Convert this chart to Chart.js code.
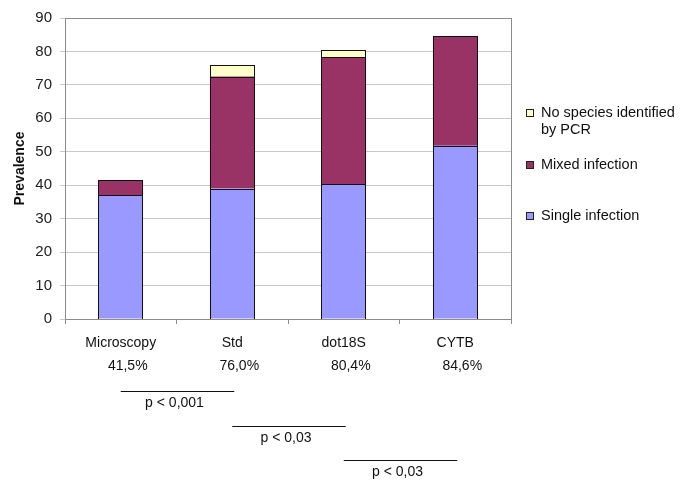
<!DOCTYPE html>
<html>
<head>
<meta charset="utf-8">
<script src="https://cdn.jsdelivr.net/npm/chart.js@4"></script>
<style>
html,body{margin:0;padding:0;background:#fff;}
#wrap{position:relative;width:685px;height:488px;}
</style>
</head>
<body>
<div id="wrap"><canvas id="c" width="685" height="488"></canvas></div>
<script>
// ---- data ----
const categories = ['Microscopy', 'Std', 'dot18S', 'CYTB'];
const singleInfection = [37.0, 39.0, 40.3, 51.8];
const mixedInfection = [4.5, 33.5, 37.9, 32.8];
const noSpecies = [null, 3.5, 2.2, null];
const percentLabels = ['41,5%', '76,0%', '80,4%', '84,6%'];
const pFrom = [0, 1, 2];
const pTo = [1, 2, 3];
const pTexts = ['p < 0,001', 'p < 0,03', 'p < 0,03'];
const yTicks = [0, 10, 20, 30, 40, 50, 60, 70, 80, 90];
const legendLabels = [['No species identified', 'by PCR'], ['Mixed infection'], ['Single infection']];

const FONT = '"Liberation Sans", Arial, sans-serif';

const frame = {
  id: 'frame',
  afterDatasetsDraw(chart) {
    const ctx = chart.ctx, a = chart.chartArea;
    ctx.save();
    // crisp outlines around the library's bar elements
    ctx.strokeStyle = '#111';
    ctx.lineWidth = 1;
    chart.data.datasets.forEach((d, di) => {
      chart.getDatasetMeta(di).data.forEach((el, i) => {
        if (d.data[i] == null) return;
        const p = el.getProps(['x', 'y', 'base', 'width'], true);
        const l = Math.round(p.x - p.width / 2), r = Math.round(p.x + p.width / 2);
        const t = Math.round(Math.min(p.y, p.base)), b = Math.round(Math.max(p.y, p.base));
        ctx.strokeRect(l + 0.5, t + 0.5, r - l - 1, b - t);
      });
    });
    ctx.strokeStyle = '#8c8c8c';
    ctx.strokeRect(Math.round(a.left) + 0.5, Math.round(a.top) + 0.5, Math.round(a.right - a.left), Math.round(a.bottom - a.top));
    ctx.restore();
  },
  afterDraw(chart) {
    const ctx = chart.ctx, x = chart.scales.x;
    ctx.save();
    ctx.fillStyle = '#111';
    ctx.font = '14px ' + FONT;
    ctx.textAlign = 'center';
    ctx.textBaseline = 'middle';
    percentLabels.forEach((t, i) => {
      ctx.fillText(t, x.getPixelForValue(i) + 7, 366);
    });
    const lineY = [391, 426, 460];
    ctx.strokeStyle = '#111';
    ctx.lineWidth = 1;
    pTexts.forEach((t, i) => {
      const x1 = x.getPixelForValue(pFrom[i]);
      const x2 = x.getPixelForValue(pTo[i]) + 2;
      const y = lineY[i] + 0.5;
      ctx.beginPath();
      ctx.moveTo(x1, y);
      ctx.lineTo(x2, y);
      ctx.stroke();
      ctx.fillText(t, (x1 + x2) / 2 - 3, lineY[i] + 12);
    });
    const ds = chart.data.datasets;
    const order = [2, 1, 0];
    const legY = [112.5, 165, 216];
    ctx.font = '14.5px ' + FONT;
    ctx.textAlign = 'left';
    order.forEach((di, k) => {
      const y = legY[k];
      ctx.fillStyle = ds[di].backgroundColor;
      ctx.fillRect(526, Math.round(y - 4), 8, 8);
      ctx.strokeStyle = '#222';
      ctx.strokeRect(526.5, Math.round(y - 4) + 0.5, 7, 7);
      ctx.fillStyle = '#111';
      legendLabels[k].forEach((line, li) => {
        ctx.fillText(line, 541, y + li * 17);
      });
    });
    ctx.restore();
  }
};

new Chart(document.getElementById('c'), {
  type: 'bar',
  data: {
    labels: categories,
    datasets: [
      { label: 'Single infection', data: singleInfection, backgroundColor: '#9999FF', borderWidth: 0 },
      { label: 'Mixed infection', data: mixedInfection, backgroundColor: '#993366', borderWidth: 0 },
      { label: 'No species identified by PCR', data: noSpecies, backgroundColor: '#FFFFCC', borderWidth: 0 }
    ]
  },
  options: {
    responsive: false,
    animation: false,
    events: [],
    layout: { padding: { left: 0, top: 18, right: 174, bottom: 0 } },
    datasets: { bar: { categoryPercentage: 1.0, barPercentage: 0.4 } },
    plugins: { legend: { display: false }, tooltip: { enabled: false } },
    scales: {
      x: {
        stacked: true,
        grid: { display: true, drawOnChartArea: false, drawTicks: true, tickLength: 5, color: '#8c8c8c', offset: true },
        border: { display: true, color: '#8c8c8c' },
        ticks: { color: '#111', font: { family: FONT, size: 14 }, padding: 11, maxRotation: 0 },
        afterFit(s) { s.height = 169; }
      },
      y: {
        stacked: true,
        min: 0, max: 90,
        afterBuildTicks(s) { s.ticks = yTicks.map(v => ({ value: v })); },
        grid: { color: '#c8c8c8', tickLength: 5, drawTicks: true },
        border: { display: true, color: '#8c8c8c' },
        ticks: { color: '#222', font: { family: FONT, size: 15 }, padding: 8 },
        title: { display: true, text: 'Prevalence', color: '#111', font: { family: FONT, size: 14, weight: 'bold' }, padding: { top: 12, bottom: 4 } },
        afterFit(s) { s.width = 65; }
      }
    }
  },
  plugins: [frame]
});
</script>
</body>
</html>
